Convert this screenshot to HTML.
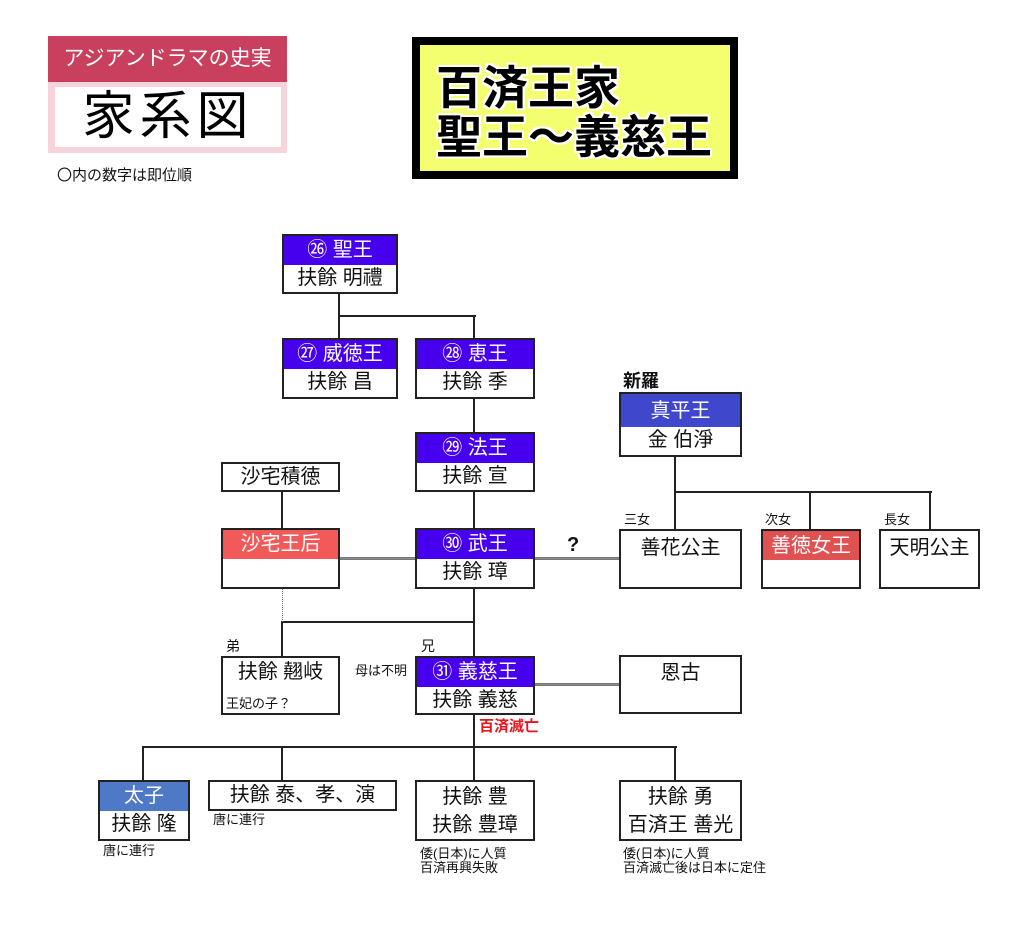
<!DOCTYPE html>
<html><head><meta charset="utf-8">
<style>
*{margin:0;padding:0;box-sizing:border-box}
body{width:1024px;height:950px;background:#fff;position:relative;overflow:hidden;font-family:"Liberation Sans","Noto Sans CJK JP",sans-serif;color:#111}
.a{position:absolute}
.box{position:absolute;border:2px solid #222;background:#fff}
.hd{height:29px;line-height:29px;text-align:center;color:#fff;font-size:20px;white-space:nowrap}
.bd{text-align:center;font-size:20px;line-height:27px;white-space:nowrap;color:#111}
.h{position:absolute;height:2px;background:#222}
.v{position:absolute;width:2px;background:#222}
.g{position:absolute;height:3px;background:#8a8a8a;border-top:1px solid #777;border-bottom:1px solid #777}
.s{position:absolute;font-size:13px;white-space:nowrap;color:#111;line-height:14px}
.blue{background:#4600ee}
</style></head><body>

<!-- header logo -->
<div class="a" style="left:48px;top:36px;width:239px;height:46px;background:#c8405e;color:#fff;font-size:21px;line-height:46px;text-align:center;letter-spacing:0px">アジアンドラマの史実</div>
<div class="a" style="left:48px;top:82px;width:239px;height:71px;background:#f7d3dc"></div>
<div class="a" style="left:55px;top:87px;width:226px;height:60px;background:#fff;font-size:52px;line-height:60px;text-align:center;letter-spacing:5px;color:#000">家系図</div>
<div class="a" style="left:57px;top:167px;font-size:15px;line-height:18px;white-space:nowrap;color:#111">〇内の数字は即位順</div>

<!-- title -->
<div class="a" style="left:412px;top:37px;width:326px;height:142px;background:#f4ff70;border:8px solid #000"></div>
<div class="a" style="left:436px;top:64px;font-size:46px;font-weight:bold;line-height:49px;color:#000;white-space:nowrap;text-shadow:2px 0 #fff,-2px 0 #fff,0 2px #fff,0 -2px #fff,2px 2px #fff,-2px -2px #fff,2px -2px #fff,-2px 2px #fff">百済王家<br>聖王～義慈王</div>

<!-- connectors -->
<div class="v" style="left:338px;top:293px;height:24px"></div>
<div class="h" style="left:338px;top:315px;width:138px"></div>
<div class="v" style="left:338px;top:315px;height:24px"></div>
<div class="v" style="left:473px;top:315px;height:24px"></div>
<div class="v" style="left:473px;top:398px;height:35px"></div>
<div class="v" style="left:473px;top:491px;height:38px"></div>
<div class="v" style="left:281px;top:491px;height:38px"></div>
<div class="v" style="left:473px;top:588px;height:69px"></div>
<div class="h" style="left:281px;top:621px;width:194px"></div>
<div class="v" style="left:281px;top:621px;height:36px"></div>
<div class="a" style="left:282px;top:589px;width:0;height:33px;border-left:1px dotted #777"></div>
<div class="v" style="left:473px;top:714px;height:67px"></div>
<div class="h" style="left:142px;top:746px;width:535px"></div>
<div class="v" style="left:142px;top:746px;height:35px"></div>
<div class="v" style="left:281px;top:746px;height:35px"></div>
<div class="v" style="left:674px;top:746px;height:35px"></div>
<div class="v" style="left:674px;top:456px;height:74px"></div>
<div class="h" style="left:674px;top:491px;width:258px"></div>
<div class="v" style="left:809px;top:491px;height:39px"></div>
<div class="v" style="left:929px;top:491px;height:39px"></div>

<!-- marriage lines -->
<div class="g" style="left:339px;top:557px;width:77px"></div>
<div class="g" style="left:534px;top:557px;width:86px"></div>
<div class="g" style="left:534px;top:683px;width:86px"></div>

<!-- nodes -->
<div class="box" style="left:282px;top:234px;width:116px;height:60px"><div class="hd blue">㉖ 聖王</div><div class="bd">扶餘 明禮</div></div>
<div class="box" style="left:282px;top:338px;width:116px;height:61px"><div class="hd blue">㉗ 威徳王</div><div class="bd">扶餘 昌</div></div>
<div class="box" style="left:415px;top:338px;width:120px;height:61px"><div class="hd blue">㉘ 恵王</div><div class="bd">扶餘 季</div></div>
<div class="box" style="left:415px;top:432px;width:120px;height:60px"><div class="hd blue">㉙ 法王</div><div class="bd">扶餘 宣</div></div>
<div class="box" style="left:221px;top:462px;width:119px;height:30px"><div class="bd" style="line-height:26px">沙宅積徳</div></div>
<div class="box" style="left:221px;top:528px;width:119px;height:61px"><div class="hd" style="background:#f25a5a">沙宅王后</div></div>
<div class="box" style="left:415px;top:528px;width:120px;height:61px"><div class="hd blue">㉚ 武王</div><div class="bd">扶餘 璋</div></div>

<div class="box" style="left:619px;top:392px;width:123px;height:65px"><div class="hd" style="background:#3f48cc;height:33px;line-height:35px">真平王</div><div class="bd">金 伯淨</div></div>
<div class="box" style="left:619px;top:529px;width:123px;height:60px"><div class="bd" style="line-height:34px">善花公主</div></div>
<div class="box" style="left:761px;top:529px;width:100px;height:60px"><div class="hd" style="background:#e05252;line-height:30px">善徳女王</div></div>
<div class="box" style="left:879px;top:529px;width:101px;height:60px"><div class="bd" style="line-height:34px">天明公主</div></div>

<div class="box" style="left:221px;top:656px;width:119px;height:59px"><div class="bd" style="line-height:28px">扶餘 翹岐</div></div>
<div class="s" style="left:226px;top:697px">王妃の子？</div>
<div class="box" style="left:415px;top:656px;width:120px;height:59px"><div class="hd blue" style="height:29px">㉛ 義慈王</div><div class="bd">扶餘 義慈</div></div>
<div class="box" style="left:619px;top:655px;width:123px;height:59px"><div class="bd" style="line-height:32px">恩古</div></div>

<div class="box" style="left:98px;top:780px;width:92px;height:61px"><div class="hd" style="background:#4e79c7">太子</div><div class="bd">扶餘 隆</div></div>
<div class="box" style="left:208px;top:780px;width:189px;height:31px"><div class="bd" style="line-height:27px">扶餘 泰、孝、演</div></div>
<div class="box" style="left:415px;top:780px;width:120px;height:61px"><div class="bd" style="line-height:28px;padding-top:1px">扶餘 豊<br>扶餘 豊璋</div></div>
<div class="box" style="left:619px;top:780px;width:123px;height:61px"><div class="bd" style="line-height:28px;padding-top:1px">扶餘 勇<br>百済王 善光</div></div>

<!-- labels -->
<div class="a" style="left:623px;top:371px;font-size:18px;font-weight:bold;line-height:20px;color:#111">新羅</div>
<div class="s" style="left:624px;top:513px">三女</div>
<div class="s" style="left:765px;top:513px">次女</div>
<div class="s" style="left:884px;top:513px">長女</div>
<div class="a" style="left:567px;top:534px;font-size:20px;font-weight:bold;line-height:22px">?</div>
<div class="a" style="left:226px;top:638px;font-size:14px;line-height:16px">弟</div>
<div class="a" style="left:421px;top:638px;font-size:14px;line-height:16px">兄</div>
<div class="s" style="left:355px;top:664px">母は不明</div>
<div class="a" style="left:479px;top:719px;font-size:15px;font-weight:bold;color:#e8141c;line-height:16px;white-space:nowrap">百済滅亡</div>
<div class="s" style="left:213px;top:813px">唐に連行</div>
<div class="s" style="left:103px;top:844px">唐に連行</div>
<div class="s" style="left:420px;top:847px">倭(日本)に人質<br>百済再興失敗</div>
<div class="s" style="left:623px;top:847px">倭(日本)に人質<br>百済滅亡後は日本に定住</div>

</body></html>
